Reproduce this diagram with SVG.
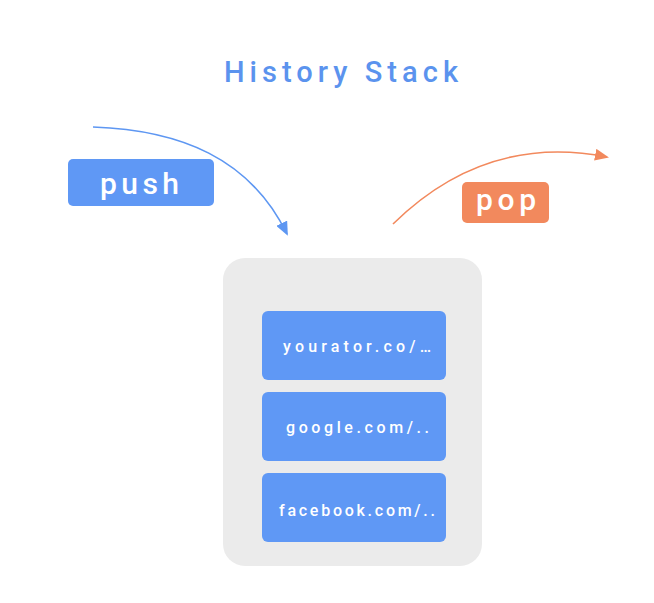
<svg xmlns="http://www.w3.org/2000/svg" width="654" height="603" viewBox="0 0 654 603">
<style>
.title{font-family:Roboto,"Liberation Sans",Arial,sans-serif;font-weight:500;font-size:29px;fill:#5b93ee}
.lbl{font-family:Roboto,"Liberation Sans",Arial,sans-serif;font-weight:500;font-size:30px;fill:#ffffff}
.item{font-family:Roboto,"Liberation Sans",Arial,sans-serif;font-weight:500;font-size:16px;fill:#ffffff}
.box{fill:#5f98f5}
.conn{fill:none;stroke-width:1.6}
</style>
<defs>
<marker id="ab" markerWidth="14" markerHeight="12" refX="12" refY="6" orient="auto" markerUnits="userSpaceOnUse">
<path d="M0,0 L14,6 L0,12 z" fill="#5e97f2"/>
</marker>
<marker id="ao" markerWidth="14" markerHeight="12" refX="12" refY="6" orient="auto" markerUnits="userSpaceOnUse">
<path d="M0,0 L14,6 L0,12 z" fill="#f2895d"/>
</marker>
</defs>
<rect width="654" height="603" fill="#ffffff"/>
<g id="title"><text class="title" x="224" y="82" textLength="234" lengthAdjust="spacing">History Stack</text></g>
<g id="connectors">
<path class="conn" stroke="#5e97f2" d="M93 127 C180 130 250 158 287 234" marker-end="url(#ab)"/>
<path class="conn" stroke="#f2895d" d="M393 224 C450 168 520 140 607 157" marker-end="url(#ao)"/>
</g>
<g id="push"><rect class="box" x="68" y="159" width="146" height="47" rx="5"/><text class="lbl" x="100" y="194" textLength="79" lengthAdjust="spacing">push</text></g>
<g id="pop"><rect x="462" y="182" width="87" height="41" rx="5" fill="#f2895d"/><text class="lbl" x="476" y="210" textLength="60" lengthAdjust="spacing">pop</text></g>
<g id="stack"><rect x="223" y="258" width="259" height="308" rx="22" fill="#ebebeb"/></g>
<g id="item1"><rect class="box" x="262" y="311" width="184" height="69" rx="6"/><text class="item" x="283" y="352" textLength="148" lengthAdjust="spacing">yourator.co/…</text></g>
<g id="item2"><rect class="box" x="262" y="392" width="184" height="69" rx="6"/><text class="item" x="286" y="433" textLength="143" lengthAdjust="spacing">google.com/..</text></g>
<g id="item3"><rect class="box" x="262" y="473" width="184" height="69" rx="6"/><text class="item" x="279" y="516" textLength="156" lengthAdjust="spacing">facebook.com/..</text></g>
</svg>
